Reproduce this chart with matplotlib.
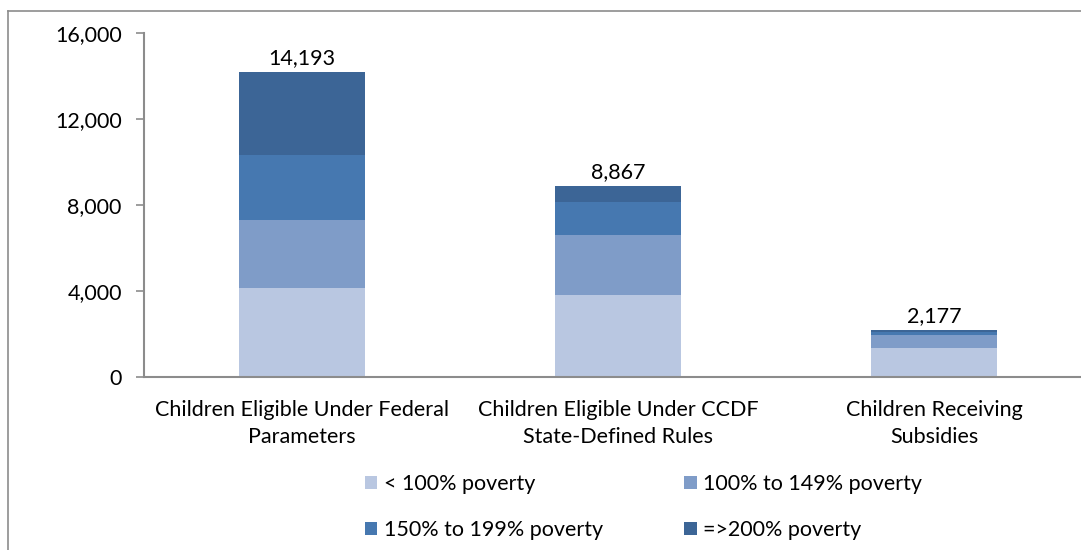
import matplotlib
matplotlib.use("Agg")
import matplotlib.pyplot as plt
from matplotlib.patches import Patch
import numpy as np

categories = ["Children Eligible Under Federal\nParameters",
              "Children Eligible Under CCDF\nState-Defined Rules",
              "Children Receiving\nSubsidies"]
series_names = ["< 100% poverty", "100% to 149% poverty",
                "150% to 199% poverty", "=>200% poverty"]
below_100 = [4133, 3821, 1340]
p100_149 = [3183, 2763, 610]
p150_199 = [3029, 1557, 130]
p200_plus = [3848, 726, 97]
colors = ["#B9C7E1", "#7F9CC8", "#4678B0", "#3C6596"]
yticks = [0, 4000, 8000, 12000, 16000]

plt.rcParams['font.family'] = ['Lato', 'DejaVu Sans']
FS = 15.5

W, H = 1081, 550
fig = plt.figure(figsize=(W / 100, H / 100), dpi=100)

def fx(px):
    return px / W

def fy(py):
    return 1 - py / H

# outer chart border
fig.add_artist(plt.Line2D([fx(8), fx(8)], [fy(11), 0], color="#8c8c8c", lw=1.2, transform=fig.transFigure))
fig.add_artist(plt.Line2D([fx(8), 1], [fy(11), fy(11)], color="#8c8c8c", lw=1.2, transform=fig.transFigure))

ax = fig.add_axes([fx(144), fy(377), fx(1092) - fx(144), (377 - 33) / H])

x = np.arange(len(categories))
series = [below_100, p100_149, p150_199, p200_plus]
bottom = np.zeros(len(categories))
for vals, col, name in zip(series, colors, series_names):
    ax.bar(x, vals, width=0.4, bottom=bottom, color=col, edgecolor="none", label=name, clip_on=False)
    bottom = bottom + np.array(vals)

for xi, tot in zip(x, bottom):
    ax.annotate(f"{int(tot):,}", (xi, tot), xytext=(0, 3), textcoords="offset points",
                ha="center", va="bottom", fontsize=FS, color="black")

ax.set_xlim(-0.5, 2.5)
ax.set_ylim(0, 16000)
ax.set_yticks(yticks)
ax.set_yticklabels([f"{v:,}" for v in yticks], fontsize=FS)
ax.set_xticks(x)
ax.set_xticklabels(categories, fontsize=FS, linespacing=1.45)
ax.tick_params(axis="x", length=0, pad=16.5)
ax.tick_params(axis="y", length=6, width=1.2, color="#8c8c8c", pad=10)
for s in ["top", "right"]:
    ax.spines[s].set_visible(False)
for s in ["left", "bottom"]:
    ax.spines[s].set_color("#8c8c8c")
    ax.spines[s].set_linewidth(1.5)

order = [0, 2, 1, 3]
leg_handles = [Patch(facecolor=colors[i], edgecolor="none") for i in order]
leg_labels = [series_names[i] for i in order]
fig.legend(leg_handles, leg_labels, ncol=2, loc="upper left",
           bbox_to_anchor=(fx(365), fy(474)), frameon=False, fontsize=FS,
           handlelength=0.56, handleheight=0.56, handletextpad=0.3,
           columnspacing=3.8, labelspacing=1.2, borderaxespad=0, borderpad=0)

fig.savefig("out.png", dpi=100)
